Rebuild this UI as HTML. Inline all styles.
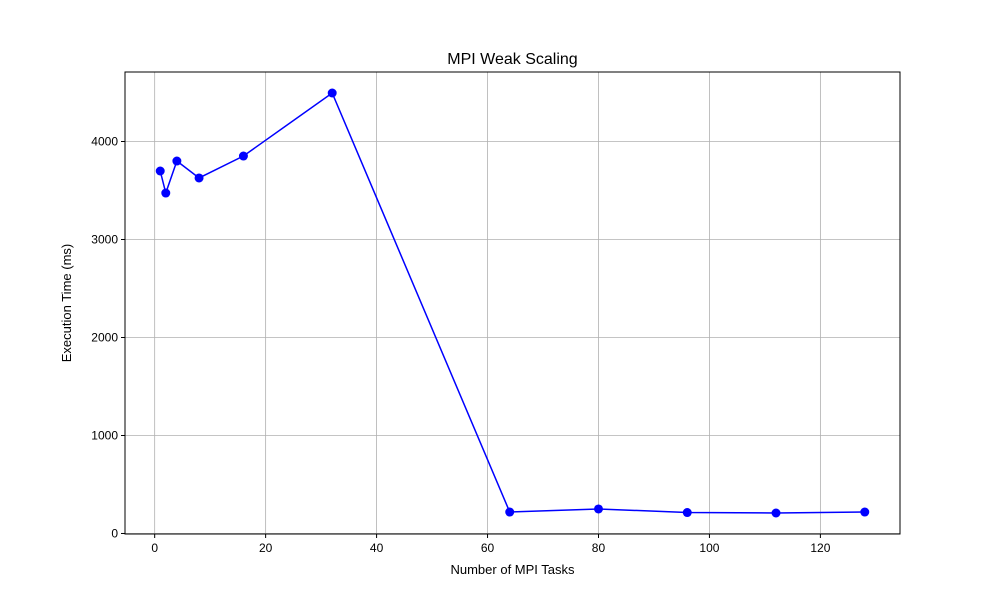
<!DOCTYPE html>
<html><head><meta charset="utf-8"><style>
body{margin:0;background:#fff;}
svg{display:block;font-family:"Liberation Sans","DejaVu Sans",sans-serif;}
</style></head><body>
<svg id="chart" width="1000" height="600">
<rect x="0" y="0" width="1000" height="600" fill="#fff"/>
<text x="512.5" y="64" text-anchor="middle" font-size="16">MPI Weak Scaling</text>
<g id="grid"></g>
<g id="ticks"></g>
<g id="series"></g>
<rect x="125" y="72" width="775" height="462" fill="none" stroke="#000" stroke-width="1"/>
<text x="512.5" y="574" text-anchor="middle" font-size="13">Number of MPI Tasks</text>
<text x="71" y="303" text-anchor="middle" font-size="13" transform="rotate(-90 71 303)">Execution Time (ms)</text>
</svg>
<script>
const tasks=[1,2,4,8,16,32,64,80,96,112,128];
const times=[3699,3474,3801,3628,3852,4495,219,250,214,209,219];
const xTicks=[0,20,40,60,80,100,120];
const yTicks=[0,1000,2000,3000,4000];
const NS="http://www.w3.org/2000/svg";
const L=125,R=900,T=72,B=534;
const xmin0=Math.min(...tasks),xmax0=Math.max(...tasks),xm=(xmax0-xmin0)*0.05;
const ymin0=Math.min(...times),ymax0=Math.max(...times),ym=(ymax0-ymin0)*0.05;
const x0=xmin0-xm,x1=xmax0+xm,y0=ymin0-ym,y1=ymax0+ym;
const sx=v=>L+(v-x0)/(x1-x0)*(R-L);
const sy=v=>B-(v-y0)/(y1-y0)*(B-T);
function mk(tag,attrs,parent){const e=document.createElementNS(NS,tag);for(const k in attrs)e.setAttribute(k,attrs[k]);document.getElementById(parent).appendChild(e);return e;}
xTicks.forEach(t=>{const x=sx(t);
 let g=mk('line',{x1:x,x2:x,y1:T,y2:B,stroke:'#b0b0b0','stroke-width':0.8},'grid');
 
 
 let k=mk('line',{x1:x,x2:x,y1:B,y2:B+4,stroke:'#000'},'ticks');
 
 
 let tx=mk('text',{x:x,y:B+18,'text-anchor':'middle','font-size':12},'ticks');tx.textContent=t;
 
 
});
yTicks.forEach(t=>{const y=sy(t);
 let g=mk('line',{x1:L,x2:R,y1:y,y2:y,stroke:'#b0b0b0','stroke-width':0.8},'grid');
 
 
 let k=mk('line',{x1:L-4,x2:L,y1:y,y2:y,stroke:'#000'},'ticks');
 
 
 let tx=mk('text',{x:L-7,y:y+4,'text-anchor':'end','font-size':12},'ticks');tx.textContent=t;
 
 
});
const pts=tasks.map((t,i)=>sx(t)+','+sy(times[i])).join(' ');
let pl=mk('polyline',{points:pts,fill:'none',stroke:'#0000ff','stroke-width':1.5},'series');


tasks.forEach((t,i)=>{let c=mk('circle',{cx:sx(t),cy:sy(times[i]),r:4.5,fill:'#0000ff'},'series');
 
 
});
</script>
</body></html>
